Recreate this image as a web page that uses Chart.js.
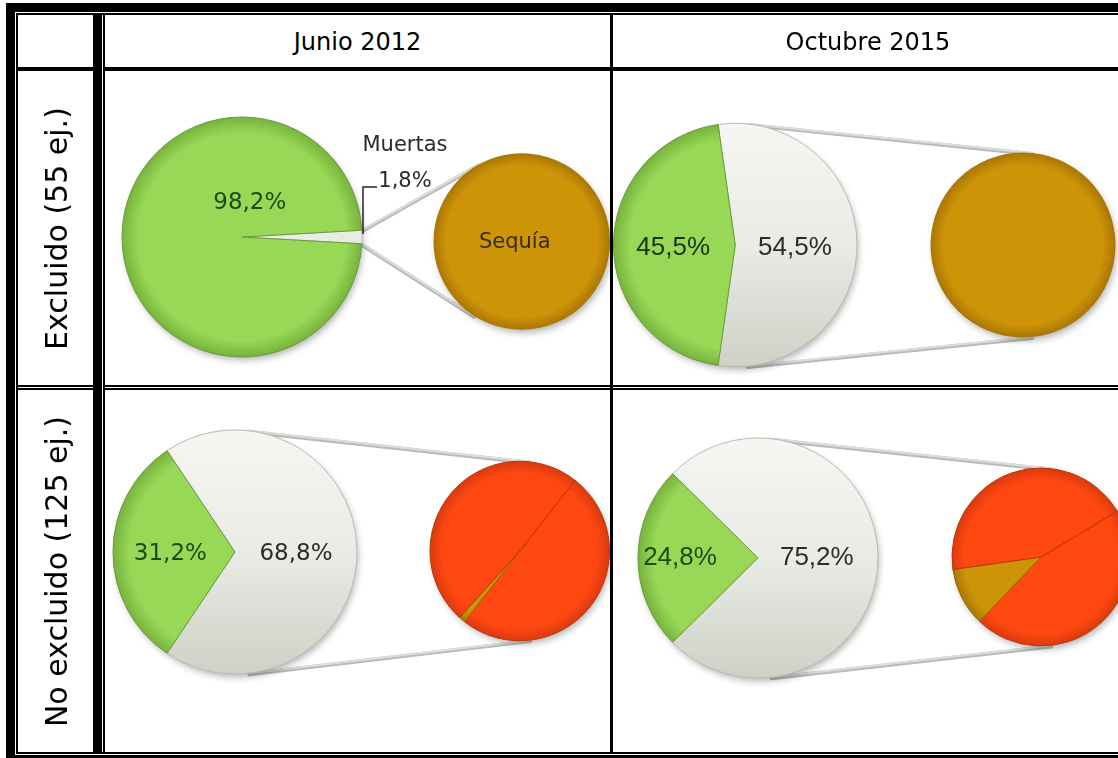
<!DOCTYPE html>
<html lang="es">
<head>
<meta charset="utf-8">
<title>Pie de pie</title>
<script src="https://cdn.jsdelivr.net/npm/chart.js@4.4.1/dist/chart.umd.min.js"></script>
<style>
html,body{margin:0;padding:0;background:#fff;}
#page{position:relative;width:1118px;height:758px;overflow:hidden;background:#fff;}
.ln{position:absolute;background:#000;z-index:5;}
.hdr{position:absolute;top:15px;height:52px;line-height:54px;text-align:center;font-family:'Comic Sans MS','DejaVu Sans',sans-serif;font-size:24px;color:#000;z-index:4;white-space:nowrap;}
.rl{position:absolute;height:75px;line-height:75px;text-align:center;font-family:'Comic Sans MS','DejaVu Sans',sans-serif;font-size:30px;color:#000;transform:rotate(-90deg);white-space:nowrap;z-index:4;}
canvas{position:absolute;}
</style>
</head>
<body>
<div id="page"></div>
<script>
// ---------------- DATA ----------------
const columnHeaders = ['Junio 2012', 'Octubre 2015'];
const rowHeaders = ['Excluido (55 ej.)', 'No excluido (125 ej.)'];

const mainCategories = ['Muertas', 'Vivas'];
const mainExcluidoJun2012   = [1.8, 98.2];
const mainExcluidoOct2015   = [54.5, 45.5];
const mainNoExcluidoJun2012 = [68.8, 31.2];
const mainNoExcluidoOct2015 = [75.2, 24.8];

const subCategoriesSingle = ['Sequía'];
const subCategoriesTriple = ['Otra causa A', 'Sequía', 'Otra causa B'];
const subExcluidoJun2012   = [1];
const subExcluidoOct2015   = [30];
const subNoExcluidoJun2012 = [43, 1, 42];
const subNoExcluidoOct2015 = [43, 10, 41];

// ---------------- LAYOUT / STYLE ----------------
const page = document.getElementById('page');
function line(l, t, w, h) {
  const d = document.createElement('div');
  d.className = 'ln';
  d.style.cssText = `left:${l}px;top:${t}px;width:${w}px;height:${h}px;`;
  page.appendChild(d);
}
line(6, 3, 1140, 9);
line(16, 13, 1130, 2);
line(6, 3, 9, 760);
line(16, 13, 2, 741);
line(16, 752, 1130, 2);
line(6, 755, 1140, 6);
line(93, 13, 9, 741);
line(103, 13, 2, 741);
line(16, 67, 78, 4);
line(103, 67, 1040, 4);
line(16, 385, 78, 2); line(16, 388, 78, 2);
line(103, 385, 1040, 2); line(103, 388, 1040, 2);
line(610, 13, 3, 741);

const hdrBoxes = [[105, 505], [613, 510]];
columnHeaders.forEach((txt, i) => {
  const d = document.createElement('div');
  d.className = 'hdr';
  d.style.left = hdrBoxes[i][0] + 'px';
  d.style.width = hdrBoxes[i][1] + 'px';
  d.textContent = txt;
  page.appendChild(d);
});
const rowBoxes = [[71, 314], [390, 362]];
rowHeaders.forEach((txt, i) => {
  const [top, h] = rowBoxes[i];
  const cx = 55.5, cy = top + h / 2;
  const d = document.createElement('div');
  d.className = 'rl';
  d.style.width = h + 'px';
  d.style.left = (cx - h / 2) + 'px';
  d.style.top = (cy - 37.5) + 'px';
  d.textContent = txt;
  page.appendChild(d);
});

const COMIC = "'DejaVu Sans', sans-serif";
const ARIAL = "'Liberation Sans', Arial, sans-serif";
const GREEN_TXT = '#1f4a14';
const GREY_TXT = '#2b2b2b';

const cells = [
  { box: [105, 71, 505, 314],
    main: { data: mainExcluidoJun2012, cx: 242, cy: 237, r: 120,
      labels: [
        { mode: 'callout', rise: 50, run: 14, textDx: 43, nameDy: -91, valueDy: -55, font: '21px ' + COMIC, color: GREY_TXT },
        { mode: 'radial', angle: 13, dist: 0.29, font: '23px ' + COMIC, color: GREEN_TXT }
      ] },
    sub: { cats: subCategoriesSingle, data: subExcluidoJun2012, cx: 522, cy: 241.5, r: 88, rotation: 0,
      labels: [ { mode: 'radial', dist: 0, dx: -7, dy: 1, text: 'label', font: '21px ' + COMIC, color: '#3a2a06' } ] } },
  { box: [613, 71, 527, 314],
    main: { data: mainExcluidoOct2015, cx: 735, cy: 245, r: 122,
      labels: [
        { mode: 'radial', dist: 0.49, dy: 3, font: '26px ' + ARIAL, color: GREY_TXT },
        { mode: 'radial', dist: 0.51, dy: 3, font: '26px ' + ARIAL, color: '#1b3312' }
      ] },
    sub: { cats: subCategoriesSingle, data: subExcluidoOct2015, cx: 1023, cy: 245, r: 92, rotation: 0, labels: [] } },
  { box: [105, 390, 505, 362],
    main: { data: mainNoExcluidoJun2012, cx: 235, cy: 552, r: 122,
      labels: [
        { mode: 'radial', dist: 0.5, dy: 2, font: '23px ' + COMIC, color: GREY_TXT },
        { mode: 'radial', dist: 0.53, dy: 2, font: '23px ' + COMIC, color: GREEN_TXT }
      ] },
    sub: { cats: subCategoriesTriple, data: subNoExcluidoJun2012, cx: 520, cy: 551, r: 90, rotation: 38, labels: [] } },
  { box: [613, 390, 527, 362],
    main: { data: mainNoExcluidoOct2015, cx: 758, cy: 558, r: 120,
      labels: [
        { mode: 'radial', dist: 0.49, dy: 0, font: '26px ' + ARIAL, color: GREY_TXT },
        { mode: 'radial', dist: 0.65, dy: 0, font: '26px ' + ARIAL, color: GREEN_TXT }
      ] },
    sub: { cats: subCategoriesTriple, data: subNoExcluidoOct2015, cx: 1041, cy: 557, r: 89, rotation: 59, labels: [] } }
];

const COLORS = {
  'Vivas':   { base: '#97d856', rim: '#76b23c', border: '#6b9a3d' },
  'Muertas': { white: true, border: '#b7bbb1' },
  'Sequía':  { base: '#cd9408', rim: '#a97604', border: '#946a08' },
  'Otra causa A': { base: '#ff4712', rim: '#d83a0c', border: '#b8360f' },
  'Otra causa B': { base: '#ff4712', rim: '#d83a0c', border: '#b8360f' }
};

function fillFor(cat, sc) {
  const c = COLORS[cat];
  const chart = sc.chart, a = chart.chartArea;
  if (!a) return c.base || '#e8eae4';
  const cx = (a.left + a.right) / 2, cy = (a.top + a.bottom) / 2;
  const R = Math.min(a.right - a.left, a.bottom - a.top) / 2;
  if (c.white) {
    const g = chart.ctx.createLinearGradient(0, cy - R, 0, cy + R);
    g.addColorStop(0, '#f6f7f3');
    g.addColorStop(0.5, '#e9ebe5');
    g.addColorStop(1, '#cdd1c6');
    return g;
  }
  const g = chart.ctx.createRadialGradient(cx, cy, 0, cx, cy, R);
  g.addColorStop(0, c.base);
  g.addColorStop(0.86, c.base);
  g.addColorStop(1, c.rim);
  return g;
}

const fmt = v => v.toFixed(1).replace('.', ',') + '%';

const shadowPlugin = {
  id: 'pieShadow',
  beforeDatasetsDraw(chart) {
    const a = chart.getDatasetMeta(0).data[0];
    if (!a) return;
    const ctx = chart.ctx;
    ctx.save();
    ctx.shadowColor = 'rgba(0,0,0,0.30)';
    ctx.shadowBlur = 7;
    ctx.shadowOffsetX = 2;
    ctx.shadowOffsetY = 4;
    ctx.fillStyle = '#d6d6d6';
    ctx.beginPath();
    ctx.arc(a.x, a.y, a.outerRadius - 1, 0, Math.PI * 2);
    ctx.fill();
    ctx.restore();
  }
};

const labelPlugin = {
  id: 'sliceLabels',
  afterDatasetsDraw(chart, args, opts) {
    const items = opts.items || [];
    const meta = chart.getDatasetMeta(0);
    const ds = chart.data.datasets[0];
    const ctx = chart.ctx;
    items.forEach((it, i) => {
      if (!it) return;
      const a = meta.data[i];
      if (!a) return;
      const mid = (a.startAngle + a.endAngle) / 2;
      const ang = it.angle !== undefined ? (it.angle - 90) * Math.PI / 180 : mid;
      ctx.save();
      ctx.font = it.font;
      ctx.fillStyle = it.color;
      ctx.textAlign = 'center';
      ctx.textBaseline = 'middle';
      if (it.mode === 'radial') {
        const d = it.dist * a.outerRadius;
        const x = a.x + Math.cos(ang) * d + (it.dx || 0);
        const y = a.y + Math.sin(ang) * d + (it.dy || 0);
        ctx.fillText(it.text === 'label' ? chart.data.labels[i] : fmt(ds.data[i]), x, y);
      } else if (it.mode === 'callout') {
        const mx = a.x + Math.cos(mid) * a.outerRadius;
        const my = a.y + Math.sin(mid) * a.outerRadius;
        ctx.strokeStyle = '#222';
        ctx.lineWidth = 1.5;
        ctx.beginPath();
        ctx.moveTo(mx + 1, my - 3);
        ctx.lineTo(mx + 1, my - it.rise);
        ctx.lineTo(mx + 1 + it.run, my - it.rise);
        ctx.stroke();
        ctx.fillText(chart.data.labels[i], mx + it.textDx, my + it.nameDy);
        ctx.fillText(fmt(ds.data[i]), mx + it.textDx, my + it.valueDy);
      }
      ctx.restore();
    });
  }
};

function normA(t) { while (t <= -Math.PI) t += 2 * Math.PI; while (t > Math.PI) t -= 2 * Math.PI; return t; }

const connectorPlugin = {
  id: 'connectors',
  beforeDatasetsDraw(chart, args, opts) {
    const main = opts.mainChart;
    if (!main) return;
    const m = main.getDatasetMeta(0).data[opts.otherIndex];
    const s = chart.getDatasetMeta(0).data[0];
    if (!m || !s) return;
    const x1 = m.x, y1 = m.y, R1 = m.outerRadius;
    const x2 = s.x, y2 = s.y, R2 = s.outerRadius;
    const phi = Math.atan2(y2 - y1, x2 - x1), D = Math.hypot(x2 - x1, y2 - y1);
    const a = Math.acos((R1 - R2) / D);
    const segs = [];
    [[m.startAngle, -1], [m.endAngle, 1]].forEach(([edge, sign]) => {
      const rel = normA(edge - phi);
      if (sign * rel >= a) {
        const t = phi + sign * a;
        segs.push([x1 + R1 * Math.cos(t), y1 + R1 * Math.sin(t), x2 + R2 * Math.cos(t), y2 + R2 * Math.sin(t)]);
      } else {
        const px = x1 + R1 * Math.cos(edge), py = y1 + R1 * Math.sin(edge);
        const d = Math.hypot(px - x2, py - y2);
        const psi = Math.atan2(py - y2, px - x2), g = Math.acos(R2 / d);
        const c1 = [x2 + R2 * Math.cos(psi + g), y2 + R2 * Math.sin(psi + g)];
        const c2 = [x2 + R2 * Math.cos(psi - g), y2 + R2 * Math.sin(psi - g)];
        const pick = sign < 0 ? (c1[1] < c2[1] ? c1 : c2) : (c1[1] > c2[1] ? c1 : c2);
        segs.push([px, py, pick[0], pick[1]]);
      }
    });
    const ctx = chart.ctx;
    ctx.save();
    ctx.lineCap = 'round';
    segs.forEach(([ax, ay, bx, by]) => {
      ctx.strokeStyle = '#b9bbb8';
      ctx.lineWidth = 4;
      ctx.beginPath(); ctx.moveTo(ax, ay + 1); ctx.lineTo(bx, by + 1); ctx.stroke();
      ctx.strokeStyle = '#dcdedb';
      ctx.lineWidth = 2;
      ctx.beginPath(); ctx.moveTo(ax, ay); ctx.lineTo(bx, by); ctx.stroke();
    });
    ctx.restore();
  }
};

function makeCanvas(box) {
  const cv = document.createElement('canvas');
  cv.width = box[2]; cv.height = box[3];
  cv.style.left = box[0] + 'px'; cv.style.top = box[1] + 'px';
  cv.style.width = box[2] + 'px'; cv.style.height = box[3] + 'px';
  page.appendChild(cv);
  return cv;
}

const BW = 1;
function padFor(box, p) {
  const lx = p.cx - box[0], ly = p.cy - box[1];
  return {
    left: lx - p.r - BW / 2,
    right: box[2] - lx - p.r - BW / 2,
    top: ly - p.r - BW / 2,
    bottom: box[3] - ly - p.r - BW / 2
  };
}

function pieConfig(labels, values, rotation, padding, labelItems, extraPlugins, connectorOpts) {
  return {
    type: 'pie',
    data: {
      labels: labels,
      datasets: [{
        data: values,
        backgroundColor: (sc) => fillFor(labels[sc.dataIndex], sc),
        borderColor: (sc) => COLORS[labels[sc.dataIndex]].border,
        borderWidth: values.length > 1 ? BW : 0,
        hoverOffset: 0
      }]
    },
    options: {
      responsive: false,
      animation: false,
      events: [],
      rotation: rotation,
      layout: { padding: padding },
      plugins: {
        legend: { display: false },
        tooltip: { enabled: false },
        sliceLabels: { items: labelItems },
        connectors: connectorOpts || {}
      }
    },
    plugins: extraPlugins
  };
}

cells.forEach(cell => {
  const subCv = makeCanvas(cell.box);
  const mainCv = makeCanvas(cell.box);
  const otherPct = cell.main.data[0];
  const mainRotation = 90 - otherPct * 3.6 / 2;
  const mainChart = new Chart(mainCv, pieConfig(mainCategories, cell.main.data, mainRotation,
    padFor(cell.box, cell.main), cell.main.labels, [shadowPlugin, labelPlugin]));
  new Chart(subCv, pieConfig(cell.sub.cats, cell.sub.data, cell.sub.rotation,
    padFor(cell.box, cell.sub), cell.sub.labels, [connectorPlugin, shadowPlugin, labelPlugin],
    { mainChart: mainChart, otherIndex: 0 }));
});
</script>
</body>
</html>
